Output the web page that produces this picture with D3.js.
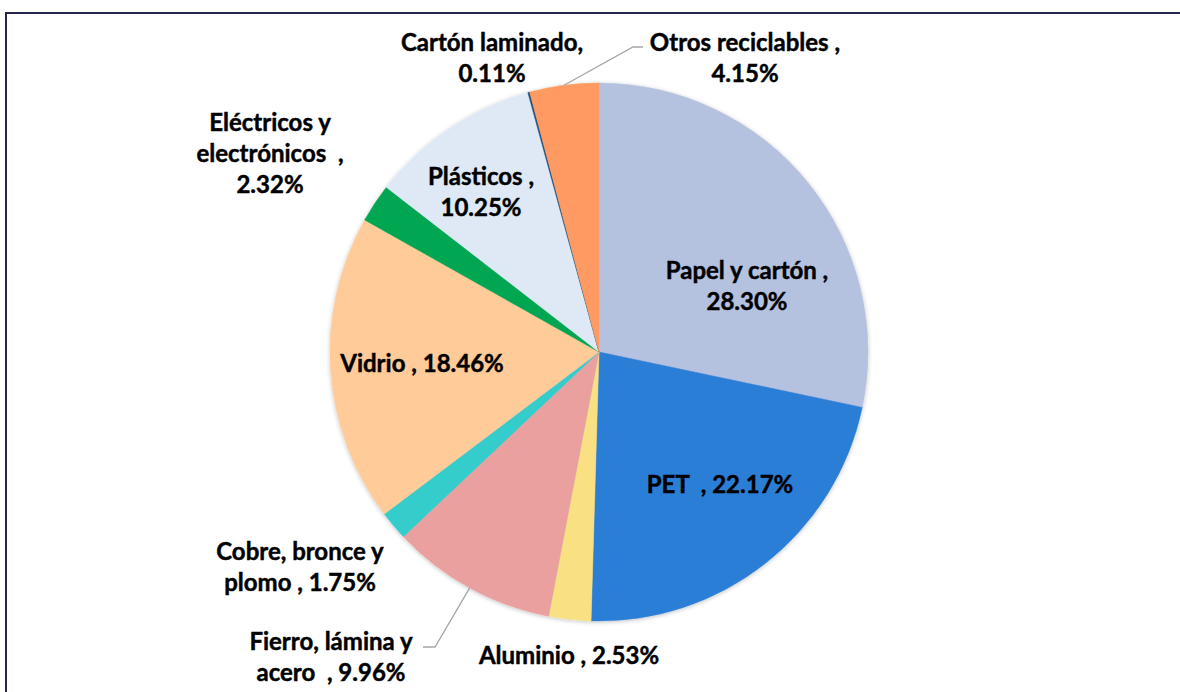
<!DOCTYPE html>
<html>
<head>
<meta charset="utf-8">
<script src="https://cdn.jsdelivr.net/npm/d3@7"></script>
<style>
  body { margin: 0; background: #fff; }
  svg { display: block; }
  .lbl { font-family: Lato, "Open Sans", sans-serif; font-weight: 700; font-size: 24px;
         fill: #000; stroke: #000; stroke-width: 0.45px; }
</style>
</head>
<body>
<div id="chart1"></div>
<script>
'use strict';

// data, clockwise from 12 o'clock
var categories = ['Papel y cartón', 'PET', 'Aluminio', 'Fierro, lámina y acero', 'Cobre, bronce y plomo',
  'Vidrio', 'Eléctricos y electrónicos', 'Plásticos', 'Cartón laminado', 'Otros reciclables'];
var values = [28.30, 22.17, 2.53, 9.96, 1.75, 18.46, 2.32, 10.25, 0.11, 4.15];
var colors = ['#b4c1df', '#2b7ed6', '#f8e083', '#e9a09f', '#35cccc',
  '#ffcb98', '#00a651', '#dfe9f5', '#1f4e79', '#ff9a63'];

// label text as it is broken into lines in the picture
var labelLines = [
  ['Papel y cartón ,', '28.30%'],
  ['PET  , 22.17%'],
  ['Aluminio , 2.53%'],
  ['Fierro, lámina y', 'acero  , 9.96%'],
  ['Cobre, bronce y', 'plomo , 1.75%'],
  ['Vidrio , 18.46%'],
  ['Eléctricos y', 'electrónicos  ,', '2.32%'],
  ['Plásticos ,', '10.25%'],
  ['Cartón laminado,', '0.11%'],
  ['Otros reciclables ,', '4.15%']
];
// label centre, offset from pie centre
var labelPos = [
  [148, -66], [121, 133], [-30, 304], [-268, 305], [-299, 215],
  [-177, 12], [-329, -198], [-118, -160], [-107, -294], [146, -294]
];
// which labels get a leader line, and where it bends
var leaders = {
  3: [[-164, 295], [-176, 295]],
  9: [[34, -305], [44, -305]]
};

var width = 1180, height = 692;
var cx = 599, cy = 352, radius = 269;
var lineH = 31;

var svg = d3.select('#chart1').append('svg')
  .attr('width', width)
  .attr('height', height);

// frame (runs off the right and bottom of the picture)
svg.append('rect')
  .attr('x', 6).attr('y', 13)
  .attr('width', width + 20).attr('height', height + 20)
  .style('fill', 'none')
  .style('stroke', '#23254a')
  .style('stroke-width', 2);

var defs = svg.append('defs');
var shadow = defs.append('filter').attr('id', 'shadow')
  .attr('x', '-10%').attr('y', '-10%').attr('width', '120%').attr('height', '120%');
shadow.append('feDropShadow')
  .attr('dx', 0).attr('dy', 1).attr('stdDeviation', 2)
  .attr('flood-color', '#000').attr('flood-opacity', 0.25);

var g = svg.append('g').attr('transform', 'translate(' + cx + ',' + cy + ')');

var pie = d3.pie().sort(null).value(function(d) { return d; });
var arcs = pie(values);

var arc = d3.arc().innerRadius(0).outerRadius(radius);
var edge = d3.arc().innerRadius(radius).outerRadius(radius);

var slices = g.append('g').attr('filter', 'url(#shadow)');
slices.selectAll('path')
  .data(arcs)
  .enter()
  .append('path')
  .attr('d', arc)
  .style('fill', function(d, i) { return colors[i]; })
  .style('stroke', function(d, i) { return colors[i]; })
  .style('stroke-width', 0.5);

// leader lines
Object.keys(leaders).forEach(function(k) {
  var i = +k;
  var pts = [edge.centroid(arcs[i])].concat(leaders[k]);
  g.append('path')
    .attr('d', d3.line()(pts))
    .style('fill', 'none')
    .style('stroke', '#a6a6a6')
    .style('stroke-width', 1.3);
});

// labels
var labels = g.selectAll('text.lbl')
  .data(labelLines)
  .enter()
  .append('text')
  .attr('class', 'lbl')
  .attr('text-anchor', 'middle')
  .attr('x', function(d, i) { return labelPos[i][0]; })
  .attr('y', function(d, i) { return labelPos[i][1]; });

labels.each(function(lines, i) {
  var t = d3.select(this);
  var top = labelPos[i][1] - (lines.length - 1) * lineH / 2;
  lines.forEach(function(s, j) {
    t.append('tspan')
      .attr('x', labelPos[i][0])
      .attr('y', top + j * lineH)
      .attr('dy', '0.35em')
      .style('white-space', 'pre')
      .text(s);
  });
});
</script>
</body>
</html>
